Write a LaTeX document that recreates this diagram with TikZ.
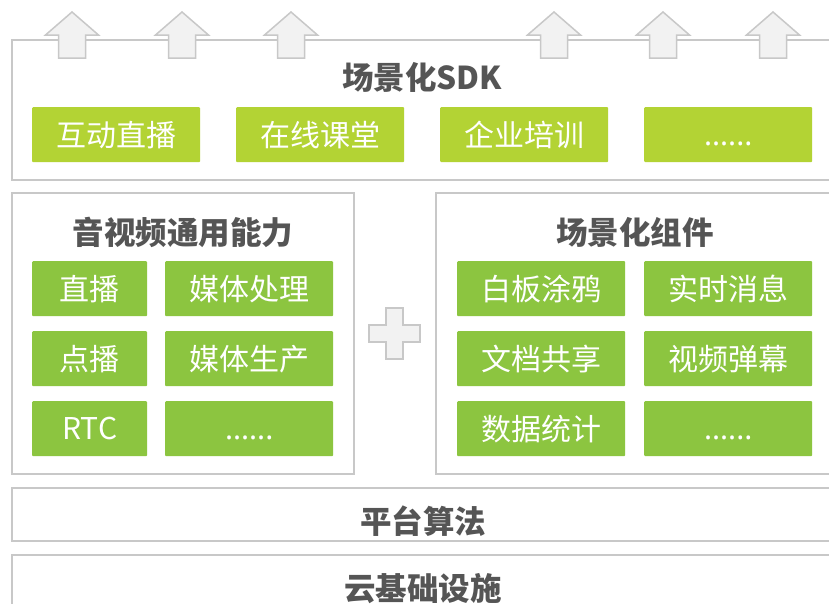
\documentclass[tikz,border=0pt]{standalone}
\usepackage{fontspec}
\setmainfont{Noto Sans CJK SC}
\newfontfamily\dotfont{Noto Sans}
\definecolor{linegray}{HTML}{C8C8C8}
\definecolor{arrowfill}{HTML}{F2F2F2}
\definecolor{sdkgreen}{HTML}{B3D334}
\definecolor{boxgreen}{HTML}{8CC540}
\definecolor{titlegray}{HTML}{555555}
\newcommand{\dotsix}{\vphantom{互}{\dotfont ......}}
\begin{document}
\begin{tikzpicture}[x=1pt,y=-1pt,
  panel/.style={draw=linegray, line width=1.8pt, fill=white},
  upar/.style={draw=linegray, line width=1.5pt, fill=arrowfill, line join=miter},
  titletext/.style={text=titlegray, font=\fontsize{31.5}{31.5}\selectfont\bfseries, inner sep=0pt},
  gbox/.style={fill=boxgreen, rounded corners=1pt, minimum height=55pt, inner sep=0pt, text=white, font=\fontsize{30}{30}\selectfont, anchor=north west},
  sdkbox/.style={gbox, fill=sdkgreen, minimum width=168pt},
  widebox/.style={gbox, minimum width=168pt},
  narrowbox/.style={gbox, minimum width=115pt}]
\useasboundingbox (0,0) rectangle (829,603);
\fill[white] (0,0) rectangle (829,603);
% panels
\draw[panel] (12,40) rectangle (840,180);
\draw[panel] (12,193) rectangle (354,474);
\draw[panel] (436,193) rectangle (840,474);
\draw[panel] (12,488) rectangle (840,541);
\draw[panel] (12,555) rectangle (840,615);
% up arrows
\foreach \t in {72,182,291,554,663,773}{
  \draw[upar] (\t,12) -- (\t+26.5,35) -- (\t+13.5,35) -- (\t+13.5,58) -- (\t-13.5,58) -- (\t-13.5,35) -- (\t-26.5,35) -- cycle;
}
% SDK
\node[titletext] (sdkt) at (422,77) {场景化SDK};
\node[sdkbox] (s1) at (32,107) {互动直播};
\node[sdkbox] (s2) at (236,107) {在线课堂};
\node[sdkbox] (s3) at (440,107) {企业培训};
\node[sdkbox] (s4) at (644,107) {\dotsix};
% left panel
\node[titletext] (avt) at (183,232) {音视频通用能力};
\node[narrowbox] (a1) at (32,261) {直播};
\node[widebox] (a2) at (165,261) {媒体处理};
\node[narrowbox] (a3) at (32,331) {点播};
\node[widebox] (a4) at (165,331) {媒体生产};
\node[narrowbox] (a5) at (32,401) {RTC};
\node[widebox] (a6) at (165,401) {\dotsix};
% right panel
\node[titletext] (cmt) at (635,232) {场景化组件};
\node[widebox] (c1) at (457,261) {白板涂鸦};
\node[widebox] (c2) at (644,261) {实时消息};
\node[widebox] (c3) at (457,331) {文档共享};
\node[widebox] (c4) at (644,331) {视频弹幕};
\node[widebox] (c5) at (457,401) {数据统计};
\node[widebox] (c6) at (644,401) {\dotsix};
% plus
\draw[upar] (386,308) -- (403,308) -- (403,325) -- (420,325) -- (420,342) -- (403,342) -- (403,359) -- (386,359) -- (386,342) -- (369,342) -- (369,325) -- (386,325) -- cycle;
% bottom layers
\node[titletext] (plat) at (423,521) {平台算法};
\node[titletext] (cloud) at (423,589) {云基础设施};
\end{tikzpicture}
\end{document}
